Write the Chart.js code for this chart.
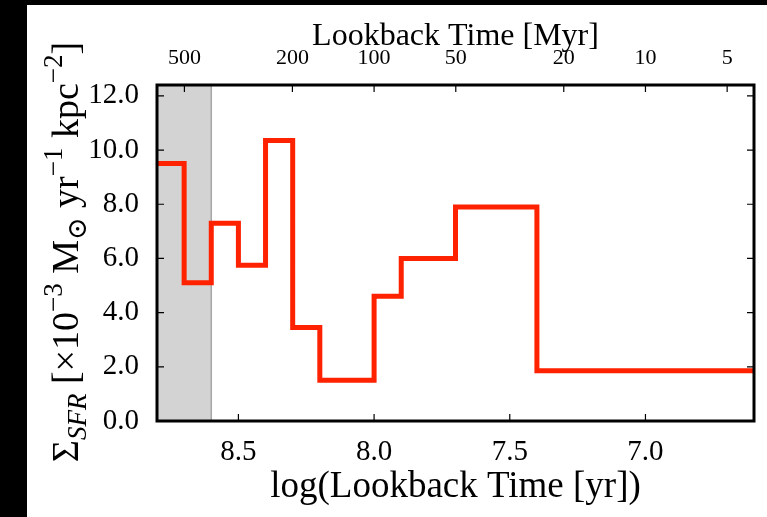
<!DOCTYPE html>
<html>
<head>
<meta charset="utf-8">
<script src="https://cdn.jsdelivr.net/npm/chart.js@4.4.0/dist/chart.umd.min.js"></script>
<style>
    html, body { margin: 0; padding: 0; background: #000; }
    #wrap { width: 767px; height: 517px; }
</style>
</head>
<body>
<div id="wrap"><canvas id="sfrChart" width="767" height="517"></canvas></div>
<script>
// Data
const binEdges = [8.8, 8.7, 8.6, 8.5, 8.4, 8.3, 8.2, 8.0, 7.9, 7.7, 7.4, 6.6];
const sfrValues = [9.5, 5.1, 7.3, 5.75, 10.35, 3.45, 1.5, 4.6, 6.0, 7.9, 1.85];
const bottomTicks = [8.5, 8.0, 7.5, 7.0];
const topTickMyr = [500, 200, 100, 50, 20, 10, 5];
const yTicks = [0, 2, 4, 6, 8, 10, 12];
const shadedRange = [8.8, 8.6];

const SERIF = "'Liberation Serif', 'DejaVu Serif', serif";

// step points: each value holds from its edge until the next one
const stepPoints = sfrValues.map((v, i) => ({ x: binEdges[i], y: v }));
stepPoints.push({ x: binEdges[binEdges.length - 1], y: sfrValues[sfrValues.length - 1] });

const backgroundPlugin = {
    id: 'background',
    beforeDraw(chart) {
        const ctx = chart.ctx;
        ctx.save();
        ctx.fillStyle = '#000';
        ctx.fillRect(0, 0, chart.width, chart.height);
        ctx.fillStyle = '#fff';
        ctx.fillRect(27, 5, chart.width - 27, chart.height - 5);
        ctx.restore();
    }
};

const shadePlugin = {
    id: 'shade',
    beforeDatasetsDraw(chart) {
        const { ctx, chartArea, scales } = chart;
        const x0 = scales.x.getPixelForValue(shadedRange[0]);
        const x1 = scales.x.getPixelForValue(shadedRange[1]);
        ctx.save();
        ctx.fillStyle = '#d3d3d3';
        ctx.fillRect(Math.min(x0, x1), chartArea.top, Math.abs(x1 - x0), chartArea.bottom - chartArea.top);
        ctx.strokeStyle = '#a6a6a6';
        ctx.lineWidth = 1.5;
        ctx.beginPath();
        ctx.moveTo(x1, chartArea.top);
        ctx.lineTo(x1, chartArea.bottom);
        ctx.stroke();
        ctx.restore();
    }
};

// matplotlib style frame with inward ticks
const framePlugin = {
    id: 'frame',
    afterDatasetsDraw(chart) {
        const { ctx, chartArea: a, scales } = chart;
        const len = 7;
        ctx.save();
        ctx.strokeStyle = '#000';
        ctx.lineWidth = 1.2;
        ctx.beginPath();
        bottomTicks.forEach(v => {
            const px = scales.x.getPixelForValue(v);
            ctx.moveTo(px, a.bottom); ctx.lineTo(px, a.bottom - len);
        });
        topTickMyr.forEach(v => {
            const px = scales.x2.getPixelForValue(Math.log10(v * 1e6));
            ctx.moveTo(px, a.top); ctx.lineTo(px, a.top + len);
        });
        yTicks.forEach(v => {
            const py = scales.y.getPixelForValue(v);
            ctx.moveTo(a.left, py); ctx.lineTo(a.left + len, py);
            ctx.moveTo(a.right, py); ctx.lineTo(a.right - len, py);
        });
        ctx.stroke();
        ctx.lineWidth = 3;
        ctx.strokeRect(a.left, a.top, a.right - a.left, a.bottom - a.top);
        ctx.restore();
    }
};

// y title with sub/superscripts, drawn rotated
const yTitlePlugin = {
    id: 'yTitle',
    afterDraw(chart) {
        const ctx = chart.ctx;
        const main = 38, small = 27;
        const parts = [
            { t: '\u03A3', s: main, dy: 0 },
            { t: 'SFR', s: small, dy: 8, it: true },
            { t: ' [\u00D710', s: main, dy: 0 },
            { t: '\u22123', s: small, dy: -16 },
            { t: ' M', s: main, dy: 0 },
            { t: '\u2299', s: small, dy: 8 },
            { t: ' yr', s: main, dy: 0 },
            { t: '\u22121', s: small, dy: -16 },
            { t: ' kpc', s: main, dy: 0 },
            { t: '\u22122', s: small, dy: -16 },
            { t: ']', s: main, dy: 0 }
        ];
        ctx.save();
        let total = 0;
        parts.forEach(p => {
            ctx.font = (p.it ? 'italic ' : '') + p.s + 'px ' + SERIF;
            p.w = ctx.measureText(p.t).width;
            total += p.w;
        });
        ctx.translate(78, 252);
        ctx.rotate(-Math.PI / 2);
        ctx.fillStyle = '#000';
        ctx.textBaseline = 'alphabetic';
        let x = -total / 2;
        parts.forEach(p => {
            ctx.font = (p.it ? 'italic ' : '') + p.s + 'px ' + SERIF;
            ctx.fillText(p.t, x, p.dy);
            x += p.w;
        });
        ctx.restore();
    }
};

const ctx = document.getElementById('sfrChart').getContext('2d');
const sfrChart = new Chart(ctx, {
    type: 'line',
    data: {
        datasets: [{
            data: stepPoints,
            borderColor: '#ff2200',
            borderWidth: 5,
            pointRadius: 0,
            stepped: true,
            fill: false,
            borderJoinStyle: 'miter'
        }]
    },
    options: {
        responsive: false,
        animation: false,
        layout: { padding: { left: 0, right: 13, top: 0, bottom: 0 } },
        plugins: {
            legend: { display: false },
            tooltip: { enabled: false }
        },
        scales: {
            x: {
                type: 'linear',
                position: 'bottom',
                min: 6.6,
                max: 8.8,
                reverse: true,
                grid: { display: false },
                border: { display: false },
                afterBuildTicks: function (scale) {
                    scale.ticks = bottomTicks.map(v => ({ value: v }));
                },
                afterFit: function (scale) { scale.height = 96; },
                ticks: {
                    color: '#000',
                    padding: 6,
                    maxRotation: 0,
                    font: { family: SERIF, size: 29 },
                    callback: function (value) { return value.toFixed(1); }
                },
                title: {
                    display: true,
                    text: 'log(Lookback Time [yr])',
                    color: '#000',
                    font: { family: SERIF, size: 37 },
                    padding: { top: 0, bottom: 8 }
                }
            },
            x2: {
                type: 'linear',
                position: 'top',
                min: 6.6,
                max: 8.8,
                reverse: true,
                grid: { display: false },
                border: { display: false },
                afterBuildTicks: function (scale) {
                    scale.ticks = topTickMyr.map(v => ({ value: Math.log10(v * 1e6) }));
                },
                afterFit: function (scale) { scale.height = 85; },
                ticks: {
                    color: '#000',
                    padding: 6,
                    maxRotation: 0,
                    font: { family: SERIF, size: 22 },
                    callback: function (value) {
                        return String(Math.round(Math.pow(10, value) / 1e6));
                    }
                },
                title: {
                    display: true,
                    text: 'Lookback Time [Myr]',
                    color: '#000',
                    font: { family: SERIF, size: 32 },
                    padding: { top: 17, bottom: 0 }
                }
            },
            y: {
                min: 0,
                max: 12.4,
                grid: { display: false },
                border: { display: false },
                afterBuildTicks: function (scale) {
                    scale.ticks = yTicks.map(v => ({ value: v }));
                },
                afterFit: function (scale) { scale.width = 157; },
                ticks: {
                    color: '#000',
                    padding: 10,
                    font: { family: SERIF, size: 29 },
                    callback: function (value) { return value.toFixed(1); }
                }
            }
        }
    },
    plugins: [backgroundPlugin, shadePlugin, framePlugin, yTitlePlugin]
});
</script>
</body>
</html>
